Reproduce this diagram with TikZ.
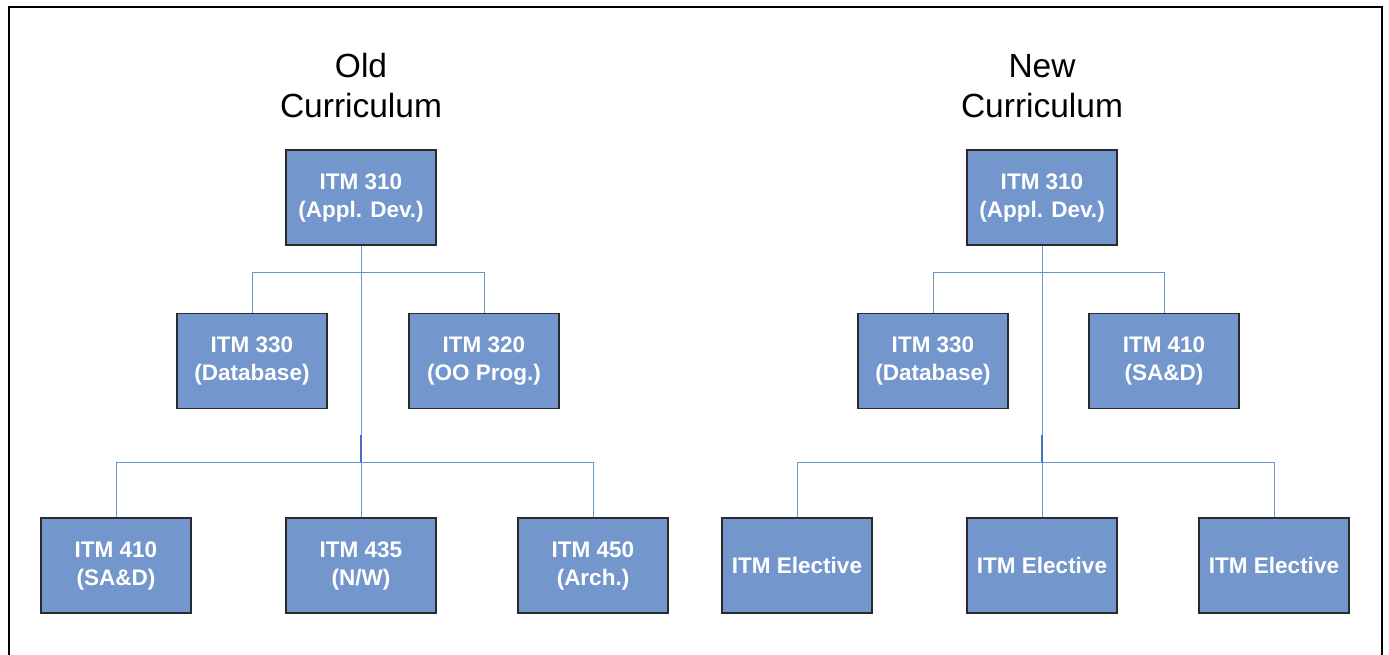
\documentclass[tikz,border=0pt]{standalone}
\usepackage{fontspec}
\setmainfont{Liberation Sans}
\definecolor{boxblue}{HTML}{7397CD}
\definecolor{lineblue}{HTML}{6A93D0}
\definecolor{tickblue}{HTML}{4472C4}
\definecolor{boxedge}{HTML}{2A2A2A}
\tikzset{
  course/.style={draw=boxedge, fill=boxblue, line width=1.1pt, minimum width=150pt, minimum height=95pt,
    inner sep=0pt, align=center, text=white, font=\fontsize{22.5}{28}\selectfont\bfseries},
  conn/.style={draw=lineblue, line width=1pt},
  tickmark/.style={draw=tickblue, line width=1.8pt},
  heading/.style={align=center, font=\fontsize{33.5}{40}\selectfont, inner sep=0pt},
  frame/.style={draw=black, line width=2.2pt}
}
\begin{document}
\begin{tikzpicture}[x=1pt,y=-1pt]
\useasboundingbox (0,0) rectangle (1389,654);
\draw[frame] (9,660) -- (9,7) -- (1382,7) -- (1382,660);

% Old curriculum
\node[heading] (ot) at (361,86) {Old\\Curriculum};
\node[course] (o1) at (361,197.5) {ITM 310\\(Appl. Dev.)};
\node[course] (o2a) at (252,361) {ITM 330\\(Database)};
\node[course] (o2b) at (484,361) {ITM 320\\(OO Prog.)};
\node[course] (o3a) at (116,565.5) {ITM 410\\(SA\&D)};
\node[course] (o3b) at (361,565.5) {ITM 435\\(N/W)};
\node[course] (o3c) at (593,565.5) {ITM 450\\(Arch.)};
\draw[conn] (o1.south) -- (o3b.north);
\draw[conn] (o2a.north) -- ++(0,-40) -| (o2b.north);
\draw[conn] (o3a.north) -- ++(0,-55) -| (o3c.north);
\draw[tickmark] ([yshift=55pt]o3b.north) -- ([yshift=82pt]o3b.north);

% New curriculum
\node[heading] (nt) at (1042,86) {New\\Curriculum};
\node[course] (n1) at (1042,197.5) {ITM 310\\(Appl. Dev.)};
\node[course] (n2a) at (933,361) {ITM 330\\(Database)};
\node[course] (n2b) at (1164,361) {ITM 410\\(SA\&D)};
\node[course] (n3a) at (797,565.5) {ITM Elective};
\node[course] (n3b) at (1042,565.5) {ITM Elective};
\node[course] (n3c) at (1274,565.5) {ITM Elective};
\draw[conn] (n1.south) -- (n3b.north);
\draw[conn] (n2a.north) -- ++(0,-40) -| (n2b.north);
\draw[conn] (n3a.north) -- ++(0,-55) -| (n3c.north);
\draw[tickmark] ([yshift=55pt]n3b.north) -- ([yshift=82pt]n3b.north);
\end{tikzpicture}
\end{document}
